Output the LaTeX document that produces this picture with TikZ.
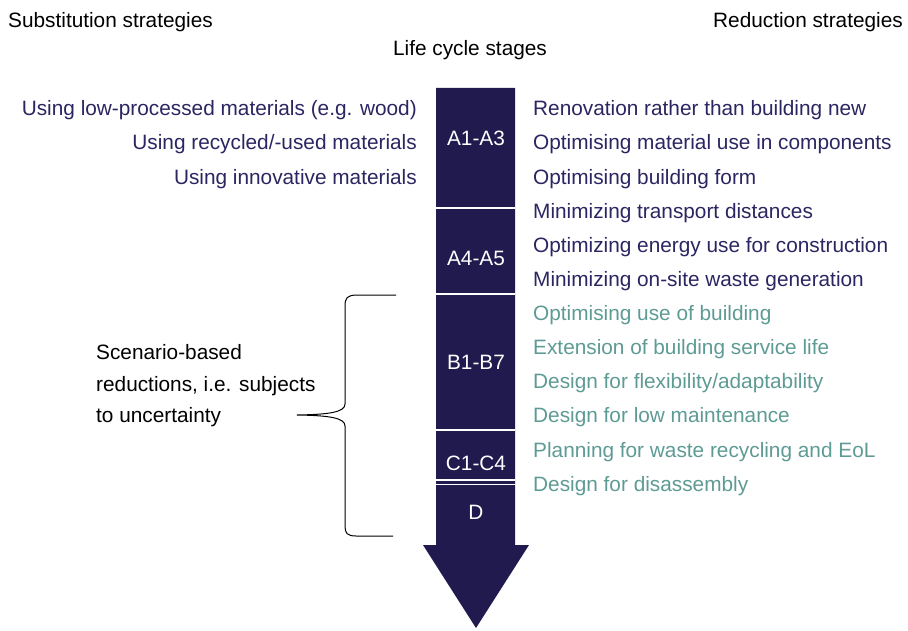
\documentclass[tikz,border=0pt]{standalone}
\usepackage{fontspec}
\setmainfont{Liberation Sans}
\definecolor{navy}{HTML}{211A4E}
\definecolor{navytext}{HTML}{2B2662}
\definecolor{teal}{HTML}{5E9B95}
\begin{document}
\begin{tikzpicture}[x=1pt,y=-1pt,
  txt/.style={inner sep=0pt,font=\fontsize{20.8}{24}\selectfont},
  lefttxt/.style={txt,anchor=base east,text=navytext},
  darktxt/.style={txt,anchor=base west,text=navytext},
  tealtxt/.style={txt,anchor=base west,text=teal},
  stage/.style={txt,anchor=base,text=white},
  sep/.style={white,line width=1.6pt}]
\useasboundingbox (0,0) rectangle (908,631);
\fill[white] (0,0) rectangle (908,631);
% headers
\node[txt,anchor=base west] (hsub) at (8,27.5) {Substitution strategies};
\node[txt,anchor=base east] (hred) at (903,27.5) {Reduction strategies};
\node[txt,anchor=base] (hlcs) at (470,55.5) {Life cycle stages};
% arrow
\fill[navy] (436,88) -- (515,88) -- (515,545) -- (529,545) -- (476,628) -- (423,545) -- (436,545) -- cycle;
\draw[sep] (436,208) -- (515,208);
\draw[sep] (436,294) -- (515,294);
\draw[sep] (436,430) -- (515,430);
\draw[sep] (436,480) -- (515,480);
\draw[sep] (436,484.5) -- (515,484.5);
\node[stage] (s1) at (476,145.5) {A1-A3};
\node[stage] (s2) at (476,265.5) {A4-A5};
\node[stage] (s3) at (476,369.5) {B1-B7};
\node[stage] (s4) at (476,470.5) {C1-C4};
\node[stage] (s5) at (476,519.5) {D};
% left list
\node[lefttxt] (l1) at (417,115.5) {Using low-processed materials (e.g. wood)};
\node[lefttxt] (l2) at (417,150) {Using recycled/-used materials};
\node[lefttxt] (l3) at (417,184.5) {Using innovative materials};
% right list
\node[darktxt] (r1) at (533,115.5) {Renovation rather than building new};
\node[darktxt] (r2) at (533,150) {Optimising material use in components};
\node[darktxt] (r3) at (533,184.5) {Optimising building form};
\node[darktxt] (r4) at (533,218.5) {Minimizing transport distances};
\node[darktxt] (r5) at (533,252.5) {Optimizing energy use for construction};
\node[darktxt] (r6) at (533,286.5) {Minimizing on-site waste generation};
\node[tealtxt] (r7) at (533,320.5) {Optimising use of building};
\node[tealtxt] (r8) at (533,354.5) {Extension of building service life};
\node[tealtxt] (r9) at (533,388.5) {Design for flexibility/adaptability};
\node[tealtxt] (r10) at (533,422.5) {Design for low maintenance};
\node[tealtxt] (r11) at (533,457) {Planning for waste recycling and EoL};
\node[tealtxt] (r12) at (533,491) {Design for disassembly};
% scenario text
\node[txt,anchor=base west] (sc1) at (96,359.5) {Scenario-based};
\node[txt,anchor=base west] (sc2) at (96,391) {reductions, i.e. subjects};
\node[txt,anchor=base west] (sc3) at (96,422.5) {to uncertainty};
% brace
\draw[line width=1pt] (396,295) -- (356,295) .. controls (347,295.5) and (345,298) .. (345,306)
  -- (345,404) .. controls (345,412) and (330,414.5) .. (297,415)
  .. controls (330,415.5) and (345,418) .. (345,426)
  -- (345,526) .. controls (345,533) and (347,536) .. (356,536) -- (393,536);
\end{tikzpicture}
\end{document}
